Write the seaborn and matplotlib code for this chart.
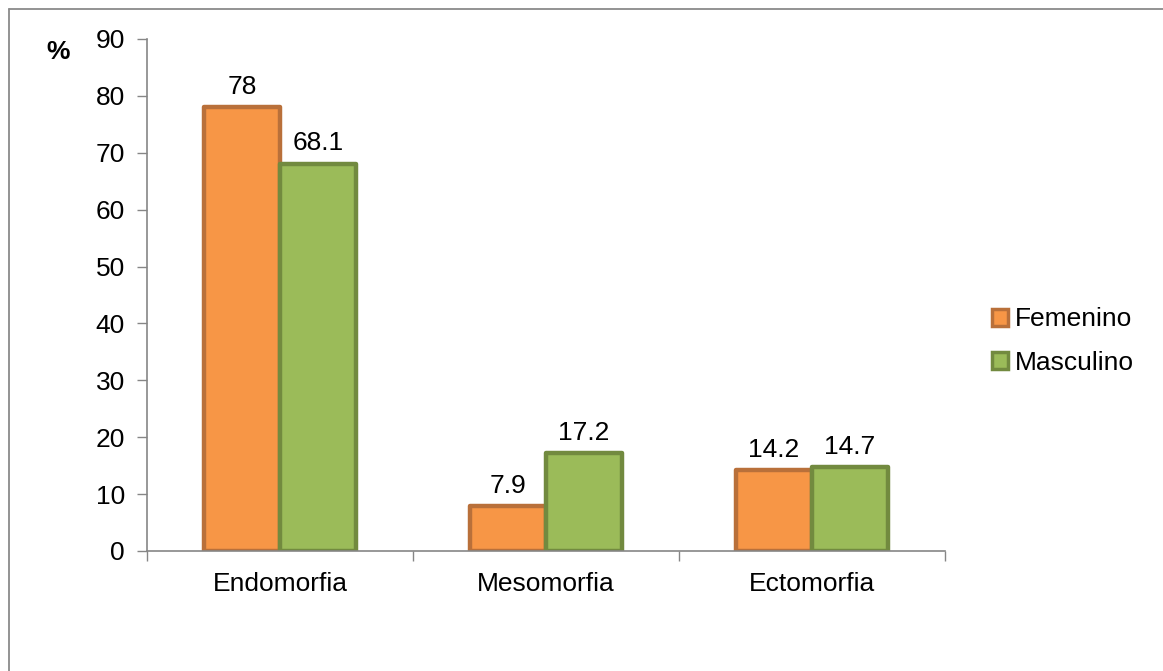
import matplotlib
matplotlib.use("Agg")
import matplotlib.pyplot as plt
import seaborn as sns
import pandas as pd
from matplotlib.lines import Line2D
from matplotlib.patches import Patch

categories = ["Endomorfia", "Mesomorfia", "Ectomorfia"]
series = ["Femenino", "Masculino"]
femenino = [78, 7.9, 14.2]
masculino = [68.1, 17.2, 14.7]
labels_fem = ["78", "7.9", "14.2"]
labels_mas = ["68.1", "17.2", "14.7"]
yticks = [0, 10, 20, 30, 40, 50, 60, 70, 80, 90]

fills = {"Femenino": "#F79646", "Masculino": "#9BBB59"}
edges = {"Femenino": "#B9703A", "Masculino": "#728A3F"}

df = pd.DataFrame({
    "cat": categories * 2,
    "sexo": [series[0]] * 3 + [series[1]] * 3,
    "val": femenino + masculino,
})

sns.set_style("white")
plt.rcParams["font.family"] = ["Liberation Sans", "DejaVu Sans"]
plt.rcParams["text.color"] = "black"
plt.rcParams["xtick.color"] = "black"
plt.rcParams["ytick.color"] = "black"

FS = 19

fig = plt.figure(figsize=(11.63, 6.71), dpi=100)
ax = fig.add_axes([147/1163, 1-551/671, (945-147)/1163, (551-39)/671])

sns.barplot(data=df, x="cat", y="val", hue="sexo", order=categories,
            hue_order=series, palette=fills, width=0.57, ax=ax,
            legend=False, saturation=1)

for cont, s in zip(ax.containers, series):
    for p in cont:
        p.set_edgecolor(edges[s])
        p.set_linewidth(3.2)
        p.set_joinstyle("round")

for cont, labs in zip(ax.containers, [labels_fem, labels_mas]):
    ax.bar_label(cont, labels=labs, padding=6, fontsize=FS, color="black")

ax.set_ylim(0, 90)
ax.set_xlim(-0.5, 2.5)
ax.set_yticks(yticks)
ax.set_yticklabels([str(v) for v in yticks], fontsize=FS, color="black")
ax.tick_params(axis="y", length=7, width=1, color="#868686", direction="out", pad=9, left=True)
ax.tick_params(axis="x", which="major", length=0, labelsize=FS, labelcolor="black", pad=15)
ax.set_xticks([-0.5, 0.5, 1.5, 2.5], minor=True)
ax.tick_params(axis="x", which="minor", length=7, width=1, color="#868686", direction="out", bottom=True)
ax.set_xlabel("")
ax.set_ylabel("")
for sp in ["top", "right"]:
    ax.spines[sp].set_visible(False)
for sp in ["left", "bottom"]:
    ax.spines[sp].set_color("#868686")
    ax.spines[sp].set_linewidth(1.2)

fig.text(58/1163, 1-52/671, "%", fontsize=FS, fontweight="bold", ha="center", va="center")

handles = [Patch(facecolor=fills[s], edgecolor=edges[s], linewidth=2.5) for s in series]
fig.legend(handles, series, loc="center left", bbox_to_anchor=(992/1163, 1-341/671),
           frameon=False, fontsize=FS, handlelength=0.6, handleheight=0.6,
           handletextpad=0.25, labelspacing=0.72, borderpad=0, borderaxespad=0)

fig.add_artist(Line2D([9/1163, 1], [1-9/671, 1-9/671], transform=fig.transFigure, color="#8a8a8a", lw=1.3))
fig.add_artist(Line2D([9/1163, 9/1163], [0, 1-9/671], transform=fig.transFigure, color="#8a8a8a", lw=1.3))

fig.savefig("out.png", dpi=100, facecolor="white")
